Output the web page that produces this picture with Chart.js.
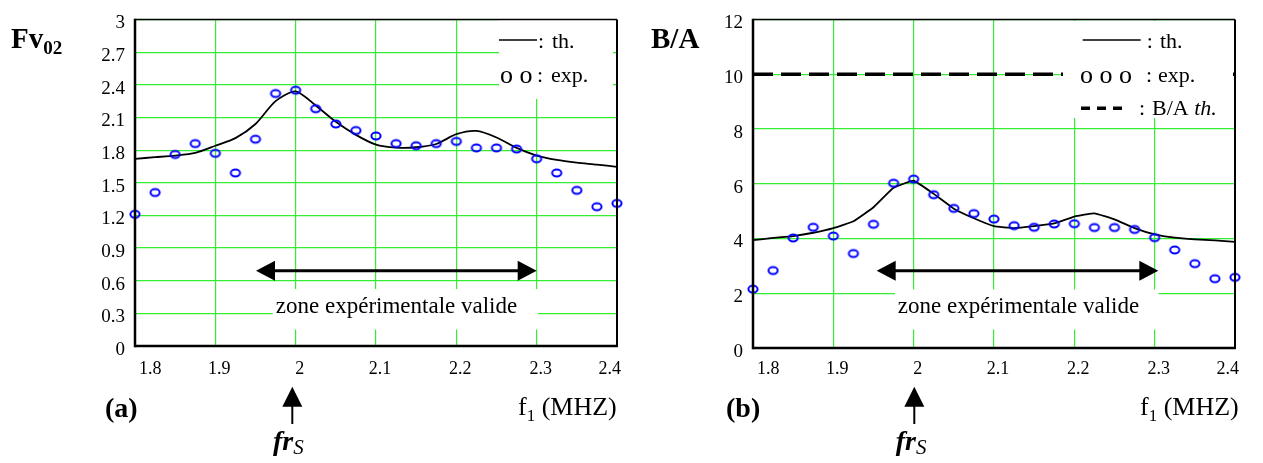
<!DOCTYPE html>
<html lang="fr">
<head>
<meta charset="UTF-8" />
<title>Fv02 et B/A en fonction de f1</title>
<script src="https://cdn.jsdelivr.net/npm/chart.js@4.4.0/dist/chart.umd.min.js"></script>
<style>
  html, body { margin: 0; padding: 0; background: #fff; }
  body { width: 1263px; height: 463px; position: relative; overflow: hidden; }
  canvas { position: absolute; top: 0; }
  #chartA { left: 0; }
  #chartB { left: 630px; }
</style>
</head>
<body>
<canvas id="chartA" width="630" height="463"></canvas>
<canvas id="chartB" width="633" height="463"></canvas>
<script>
// f1 (MHz), same grid for the measured points of both panels
var freqs = [1.8, 1.825, 1.85, 1.875, 1.9, 1.925, 1.95, 1.975, 2.0, 2.025, 2.05, 2.075,
             2.1, 2.125, 2.15, 2.175, 2.2, 2.225, 2.25, 2.275, 2.3, 2.325, 2.35, 2.375, 2.4];

// (a) Fv02
var fvExp = [1.21, 1.41, 1.76, 1.86, 1.77, 1.59, 1.90, 2.32, 2.35, 2.18, 2.04, 1.98,
             1.93, 1.86, 1.84, 1.86, 1.88, 1.82, 1.82, 1.81, 1.72, 1.59, 1.43, 1.28, 1.31];
var fvTh = [1.72, 1.735, 1.75, 1.775, 1.84, 1.91, 2.04, 2.25, 2.34, 2.21, 2.06, 1.94,
            1.85, 1.823, 1.826, 1.856, 1.946, 1.976, 1.916, 1.82, 1.75, 1.71, 1.685, 1.667, 1.646];

// (b) B/A
var baExp = [2.15, 2.83, 4.02, 4.41, 4.09, 3.45, 4.52, 6.02, 6.17, 5.60, 5.10, 4.91,
             4.71, 4.47, 4.41, 4.53, 4.54, 4.40, 4.40, 4.33, 4.03, 3.58, 3.08, 2.53, 2.58];
var baTh = [3.94, 4.02, 4.09, 4.21, 4.38, 4.63, 5.14, 5.85, 6.11, 5.63, 5.09, 4.74,
            4.45, 4.38, 4.45, 4.55, 4.80, 4.92, 4.70, 4.38, 4.15, 4.03, 3.97, 3.93, 3.88];
var baLimitX = [1.8, 2.4];
var baLimit = [10, 10];

// tick labels
var xTicks = [1.8, 1.9, 2.0, 2.1, 2.2, 2.3, 2.4];
var fvTicks = [0, 0.3, 0.6, 0.9, 1.2, 1.5, 1.8, 2.1, 2.4, 2.7, 3];
var baTicks = [0, 2, 4, 6, 8, 10, 12];

var GRID = '#33ee33';
var FONT = "'Liberation Serif', 'Times New Roman', serif";

// little blue ellipse used as point marker
function ringImage() {
  var c = document.createElement('canvas');
  c.width = 14;
  c.height = 12;
  var g = c.getContext('2d');
  g.strokeStyle = '#0000ff';
  g.lineWidth = 2;
  g.beginPath();
  g.ellipse(7, 6, 4.6, 3.4, 0, 0, Math.PI * 2);
  g.stroke();
  return c;
}
var ring = ringImage();

function pts(xs, ys) {
  return xs.map(function (x, i) { return { x: x, y: ys[i] }; });
}

function fmt(v) { return String(+(+v).toFixed(1)); }

function axes(yMax, yTicks, yWidth, xHeight, xPad) {
  return {
    x: {
      type: 'linear', min: 1.8, max: 2.4,
      afterBuildTicks: function (s) { s.ticks = xTicks.map(function (v) { return { value: v }; }); },
      afterFit: function (s) { s.height = xHeight; },
      grid: { color: GRID, lineWidth: 1.2, drawTicks: false },
      border: { display: false },
      ticks: {
        align: 'inner', labelOffset: 4, padding: xPad, autoSkip: false, maxRotation: 0,
        color: '#000', font: { family: FONT, size: 18 }, callback: fmt
      }
    },
    y: {
      type: 'linear', min: 0, max: yMax,
      afterBuildTicks: function (s) { s.ticks = yTicks.map(function (v) { return { value: v }; }); },
      afterFit: function (s) { s.width = yWidth; },
      grid: { color: GRID, lineWidth: 1.2, drawTicks: false },
      border: { display: false },
      ticks: {
        labelOffset: 4, padding: 10, autoSkip: false,
        color: '#000', font: { family: FONT, size: 19, lineHeight: 1 }, callback: fmt
      }
    }
  };
}

// --- annotation helpers (page coordinates) ---
function seg(ctx, x1, y1, x2, y2, w) {
  ctx.lineWidth = w;
  ctx.beginPath();
  ctx.moveTo(x1, y1);
  ctx.lineTo(x2, y2);
  ctx.stroke();
}

function tri(ctx, ax, ay, bx, by, cx, cy) {
  ctx.beginPath();
  ctx.moveTo(ax, ay);
  ctx.lineTo(bx, by);
  ctx.lineTo(cx, cy);
  ctx.closePath();
  ctx.fill();
}

function txt(ctx, s, x, y, font, align) {
  ctx.font = font;
  ctx.textAlign = align || 'left';
  ctx.textBaseline = 'alphabetic';
  ctx.fillText(s, x, y);
  return x + ctx.measureText(s).width;
}

function hArrow(ctx, x1, x2, y) {
  seg(ctx, x1 + 15, y, x2 - 15, y, 3);
  tri(ctx, x1, y, x1 + 19, y - 10, x1 + 19, y + 10);
  tri(ctx, x2, y, x2 - 19, y - 10, x2 - 19, y + 10);
}

function upArrow(ctx, x) {
  tri(ctx, x, 386.7, x - 10, 406.7, x + 10, 406.7);
  seg(ctx, x, 404, x, 424, 2);
}

function outerLabels(ctx, p) {
  var x;
  // y axis name
  x = txt(ctx, p.yName, p.yNameX, 48, 'bold 29px ' + FONT);
  if (p.ySub) txt(ctx, p.ySub, x, 54, 'bold 19px ' + FONT);
  // panel letter
  txt(ctx, p.letter, p.letterX, 417, 'bold 28px ' + FONT);
  // x axis name
  x = txt(ctx, 'f', p.fX, 415, '26px ' + FONT);
  x = txt(ctx, '1', x, 421, '17px ' + FONT);
  txt(ctx, ' (MHZ)', x, 415, '26px ' + FONT);
  // resonance marker
  upArrow(ctx, p.frArrowX);
  x = txt(ctx, 'fr', p.frX, 450, 'italic bold 28px ' + FONT);
  txt(ctx, 'S', x, 454, 'italic 21px ' + FONT);
}

function drawPanelA(chart) {
  var ctx = chart.ctx, a = chart.chartArea;
  ctx.save();
  ctx.fillStyle = '#fff';
  ctx.fillRect(499, 20, 114, 79);
  ctx.fillRect(272.7, 289, 265.3, 40.5);
  ctx.strokeStyle = '#000';
  ctx.fillStyle = '#000';
  seg(ctx, a.left, a.top, a.right, a.top, 1.5);
  seg(ctx, a.right, a.top, a.right, a.bottom, 2);
  seg(ctx, a.left, a.top - 0.75, a.left, a.bottom + 1.25, 2.5);
  seg(ctx, a.left, a.bottom, a.right + 1, a.bottom, 2.5);
  // legend
  seg(ctx, 499, 40, 537, 40, 1.6);
  txt(ctx, ':', 538, 48, '22px ' + FONT);
  txt(ctx, 'th.', 552, 48, '22px ' + FONT);
  txt(ctx, 'o o', 500, 83, '26px ' + FONT);
  txt(ctx, ':', 537, 82, '22px ' + FONT);
  txt(ctx, 'exp.', 551, 82, '22px ' + FONT);
  // valid zone
  hArrow(ctx, 256, 536.7, 270.7);
  txt(ctx, 'zone expérimentale valide', 396.5, 312.7, '23px ' + FONT, 'center');
  outerLabels(ctx, { yName: 'Fv', ySub: '02', yNameX: 11, letter: '(a)', letterX: 105, fX: 518, frArrowX: 292.3, frX: 273 });
  ctx.restore();
}

function drawPanelB(chart) {
  var ctx = chart.ctx, a = chart.chartArea;
  ctx.save();
  ctx.translate(-630, 0);
  var L = a.left + 630, R = a.right + 630, T = a.top, B = a.bottom;
  ctx.fillStyle = '#fff';
  ctx.fillRect(1063, 21, 170, 97);
  ctx.fillRect(895, 289.5, 263.5, 40);
  ctx.strokeStyle = '#000';
  ctx.fillStyle = '#000';
  seg(ctx, L, T, R, T, 1.5);
  seg(ctx, R, T, R, B, 2);
  seg(ctx, L, T - 0.75, L, B + 1.25, 2.5);
  seg(ctx, L, B, R + 1, B, 2.5);
  // legend
  seg(ctx, 1082.7, 40, 1140.7, 40, 1.6);
  txt(ctx, ':', 1146.7, 48, '22px ' + FONT);
  txt(ctx, 'th.', 1160, 48, '22px ' + FONT);
  txt(ctx, 'o o o', 1080, 83, '26px ' + FONT);
  txt(ctx, ':', 1146, 82, '22px ' + FONT);
  txt(ctx, 'exp.', 1158, 82, '22px ' + FONT);
  ctx.setLineDash([9, 7]);
  seg(ctx, 1081, 108.3, 1122, 108.3, 3.5);
  ctx.setLineDash([]);
  txt(ctx, ':', 1139, 115, '22px ' + FONT);
  var x = txt(ctx, 'B/A ', 1152, 115, '22px ' + FONT);
  txt(ctx, 'th.', x, 115, 'italic 22px ' + FONT);
  // valid zone
  hArrow(ctx, 876.7, 1158.3, 270.7);
  txt(ctx, 'zone expérimentale valide', 1018.5, 312.7, '23px ' + FONT, 'center');
  outerLabels(ctx, { yName: 'B/A', yNameX: 651, letter: '(b)', letterX: 726, fX: 1140, frArrowX: 914.3, frX: 895.7 });
  ctx.restore();
}

var decorations = { chartA: drawPanelA, chartB: drawPanelB };

var decor = {
  id: 'decor',
  afterDatasetsDraw: function (chart) {
    decorations[chart.canvas.id](chart);
  }
};

var common = {
  responsive: false,
  animation: false,
  events: [],
  plugins: { legend: { display: false }, tooltip: { enabled: false } }
};

new Chart(document.getElementById('chartA'), {
  type: 'scatter',
  data: {
    datasets: [
      { label: 'exp.', data: pts(freqs, fvExp), pointStyle: ring, pointRadius: 5, borderColor: '#0000ff', clip: 8 },
      { label: 'th.', data: pts(freqs, fvTh), showLine: true, borderColor: '#000', borderWidth: 1.8, pointRadius: 0, tension: 0.25 }
    ]
  },
  options: Object.assign({}, common, {
    layout: { padding: { top: 13, right: 13, left: 0, bottom: 0 } },
    scales: axes(3, fvTicks, 135, 117, 12)
  }),
  plugins: [decor]
});

new Chart(document.getElementById('chartB'), {
  type: 'scatter',
  data: {
    datasets: [
      { label: 'exp.', data: pts(freqs, baExp), pointStyle: ring, pointRadius: 5, borderColor: '#0000ff', clip: 8 },
      { label: 'th.', data: pts(freqs, baTh), showLine: true, borderColor: '#000', borderWidth: 1.8, pointRadius: 0, tension: 0.1 },
      { label: 'B/A th.', data: pts(baLimitX, baLimit), showLine: true, borderColor: '#000', borderWidth: 3.5, borderDash: [20, 8], pointRadius: 0 }
    ]
  },
  options: Object.assign({}, common, {
    layout: { padding: { top: 11, right: 28, left: 0, bottom: 0 } },
    scales: axes(12, baTicks, 123, 115, 10)
  }),
  plugins: [decor]
});
</script>
</body>
</html>
